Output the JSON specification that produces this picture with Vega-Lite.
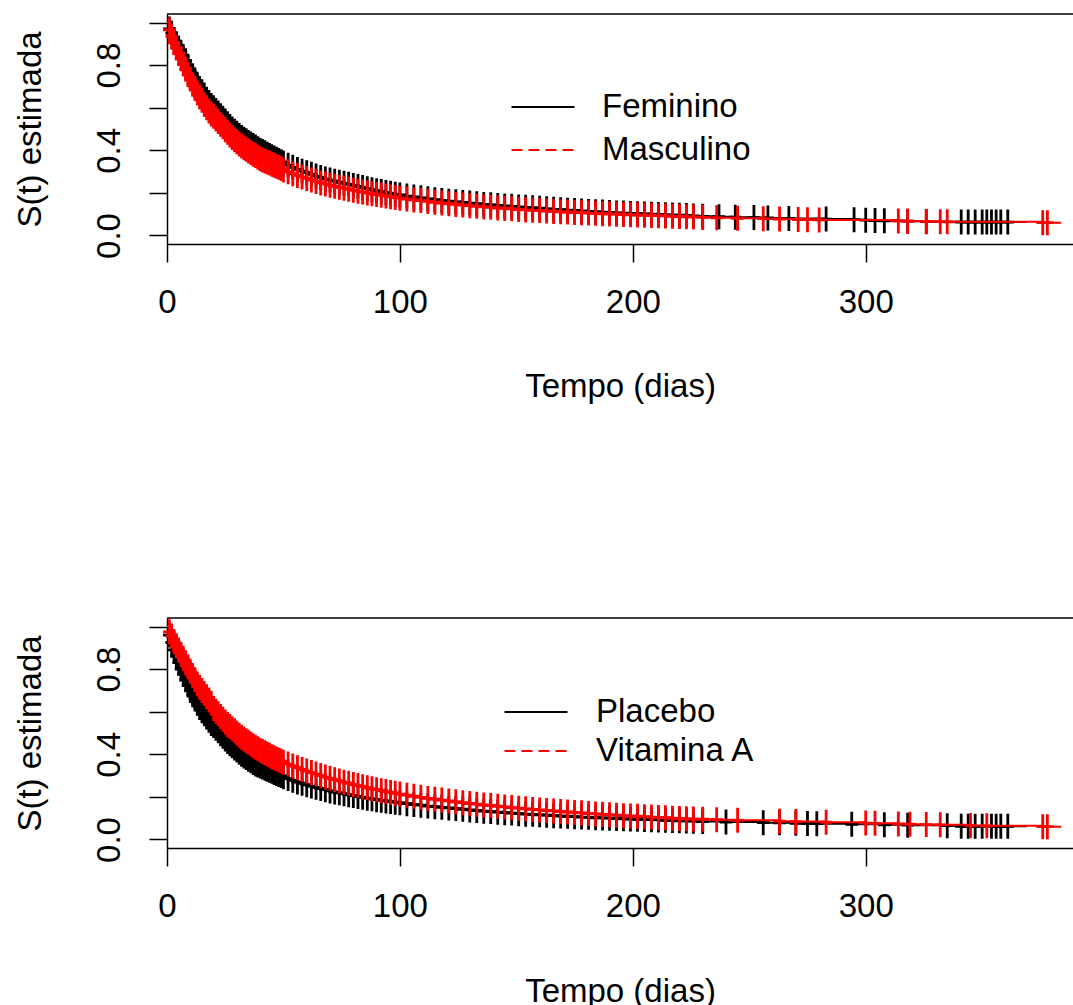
{
"$schema": "https://vega.github.io/schema/vega-lite/v6.json",
"background": "white",
"padding": {"left": 13, "top": 10, "right": 0, "bottom": 0},
"config": {"font": "Liberation Sans", "view": {"stroke": null}},
"data": {"values": [
{"p":1,"g":"Feminino","t":0,"s":1,"m":0},{"p":1,"g":"Feminino","t":1,"s":0.97},{"p":1,"g":"Feminino","t":2,"s":0.95},{"p":1,"g":"Feminino","t":3,"s":0.92},{"p":1,"g":"Feminino","t":4,"s":0.9},{"p":1,"g":"Feminino","t":5,"s":0.88},{"p":1,"g":"Feminino","t":6,"s":0.86},{"p":1,"g":"Feminino","t":7,"s":0.84},{"p":1,"g":"Feminino","t":8,"s":0.82},{"p":1,"g":"Feminino","t":9,"s":0.795},{"p":1,"g":"Feminino","t":10,"s":0.77},{"p":1,"g":"Feminino","t":11,"s":0.75},{"p":1,"g":"Feminino","t":12,"s":0.73},{"p":1,"g":"Feminino","t":13,"s":0.71},{"p":1,"g":"Feminino","t":14,"s":0.69},{"p":1,"g":"Feminino","t":15,"s":0.675},{"p":1,"g":"Feminino","t":16,"s":0.66},{"p":1,"g":"Feminino","t":17,"s":0.64},{"p":1,"g":"Feminino","t":18,"s":0.625},{"p":1,"g":"Feminino","t":19,"s":0.61},
{"p":1,"g":"Feminino","t":20,"s":0.6},{"p":1,"g":"Feminino","t":21,"s":0.587},{"p":1,"g":"Feminino","t":22,"s":0.575},{"p":1,"g":"Feminino","t":23,"s":0.562},{"p":1,"g":"Feminino","t":24,"s":0.55},{"p":1,"g":"Feminino","t":25,"s":0.537},{"p":1,"g":"Feminino","t":26,"s":0.525},{"p":1,"g":"Feminino","t":27,"s":0.512},{"p":1,"g":"Feminino","t":28,"s":0.5},{"p":1,"g":"Feminino","t":29,"s":0.49},{"p":1,"g":"Feminino","t":30,"s":0.48},{"p":1,"g":"Feminino","t":31,"s":0.47},{"p":1,"g":"Feminino","t":32,"s":0.46},{"p":1,"g":"Feminino","t":33,"s":0.452},{"p":1,"g":"Feminino","t":34,"s":0.445},{"p":1,"g":"Feminino","t":35,"s":0.437},{"p":1,"g":"Feminino","t":36,"s":0.43},{"p":1,"g":"Feminino","t":37,"s":0.422},{"p":1,"g":"Feminino","t":38,"s":0.415},{"p":1,"g":"Feminino","t":39,"s":0.407},{"p":1,"g":"Feminino","t":40,"s":0.4},{"p":1,"g":"Feminino","t":41,"s":0.394},{"p":1,"g":"Feminino","t":42,"s":0.388},{"p":1,"g":"Feminino","t":43,"s":0.382},{"p":1,"g":"Feminino","t":44,"s":0.376},{"p":1,"g":"Feminino","t":45,"s":0.37},{"p":1,"g":"Feminino","t":46,"s":0.364},{"p":1,"g":"Feminino","t":47,"s":0.358},{"p":1,"g":"Feminino","t":48,"s":0.352},{"p":1,"g":"Feminino","t":49,"s":0.346},{"p":1,"g":"Feminino","t":50,"s":0.34},{"p":1,"g":"Feminino","t":52,"s":0.33},{"p":1,"g":"Feminino","t":54,"s":0.32},{"p":1,"g":"Feminino","t":56,"s":0.31},{"p":1,"g":"Feminino","t":58,"s":0.302},{"p":1,"g":"Feminino","t":60,"s":0.295},{"p":1,"g":"Feminino","t":62,"s":0.287},{"p":1,"g":"Feminino","t":64,"s":0.279},{"p":1,"g":"Feminino","t":66,"s":0.272},{"p":1,"g":"Feminino","t":68,"s":0.265},{"p":1,"g":"Feminino","t":70,"s":0.26},{"p":1,"g":"Feminino","t":72,"s":0.255},{"p":1,"g":"Feminino","t":74,"s":0.25},{"p":1,"g":"Feminino","t":76,"s":0.245},{"p":1,"g":"Feminino","t":78,"s":0.24},{"p":1,"g":"Feminino","t":80,"s":0.235},{"p":1,"g":"Feminino","t":82,"s":0.23},{"p":1,"g":"Feminino","t":84,"s":0.225},{"p":1,"g":"Feminino","t":86,"s":0.22},{"p":1,"g":"Feminino","t":88,"s":0.215},{"p":1,"g":"Feminino","t":90,"s":0.21},{"p":1,"g":"Feminino","t":92,"s":0.206},{"p":1,"g":"Feminino","t":94,"s":0.202},{"p":1,"g":"Feminino","t":96,"s":0.198},{"p":1,"g":"Feminino","t":98,"s":0.194},{"p":1,"g":"Feminino","t":100,"s":0.19},{"p":1,"g":"Feminino","t":103,"s":0.185},{"p":1,"g":"Feminino","t":106,"s":0.181},{"p":1,"g":"Feminino","t":109,"s":0.177},{"p":1,"g":"Feminino","t":112,"s":0.172},{"p":1,"g":"Feminino","t":115,"s":0.168},{"p":1,"g":"Feminino","t":118,"s":0.164},{"p":1,"g":"Feminino","t":121,"s":0.161},{"p":1,"g":"Feminino","t":124,"s":0.158},{"p":1,"g":"Feminino","t":127,"s":0.155},{"p":1,"g":"Feminino","t":130,"s":0.152},{"p":1,"g":"Feminino","t":133,"s":0.149},{"p":1,"g":"Feminino","t":136,"s":0.146},{"p":1,"g":"Feminino","t":139,"s":0.144},{"p":1,"g":"Feminino","t":142,"s":0.141},{"p":1,"g":"Feminino","t":145,"s":0.139},{"p":1,"g":"Feminino","t":148,"s":0.137},{"p":1,"g":"Feminino","t":151,"s":0.134},{"p":1,"g":"Feminino","t":154,"s":0.132},{"p":1,"g":"Feminino","t":157,"s":0.13},{"p":1,"g":"Feminino","t":160,"s":0.128},{"p":1,"g":"Feminino","t":163,"s":0.125},{"p":1,"g":"Feminino","t":166,"s":0.123},{"p":1,"g":"Feminino","t":169,"s":0.121},{"p":1,"g":"Feminino","t":172,"s":0.119},{"p":1,"g":"Feminino","t":175,"s":0.117},{"p":1,"g":"Feminino","t":178,"s":0.115},{"p":1,"g":"Feminino","t":181,"s":0.113},{"p":1,"g":"Feminino","t":184,"s":0.111},{"p":1,"g":"Feminino","t":187,"s":0.11},{"p":1,"g":"Feminino","t":190,"s":0.108},{"p":1,"g":"Feminino","t":193,"s":0.106},{"p":1,"g":"Feminino","t":196,"s":0.105},{"p":1,"g":"Feminino","t":199,"s":0.103},{"p":1,"g":"Feminino","t":202,"s":0.102},{"p":1,"g":"Feminino","t":205,"s":0.101},{"p":1,"g":"Feminino","t":208,"s":0.1},{"p":1,"g":"Feminino","t":211,"s":0.099},{"p":1,"g":"Feminino","t":214,"s":0.097},{"p":1,"g":"Feminino","t":217,"s":0.096},{"p":1,"g":"Feminino","t":220,"s":0.095},{"p":1,"g":"Feminino","t":223,"s":0.094},{"p":1,"g":"Feminino","t":226,"s":0.092},{"p":1,"g":"Feminino","t":230,"s":0.09},
{"p":1,"g":"Feminino","t":237,"s":0.088},{"p":1,"g":"Feminino","t":244,"s":0.086},{"p":1,"g":"Feminino","t":252,"s":0.084},{"p":1,"g":"Feminino","t":258,"s":0.082},{"p":1,"g":"Feminino","t":267,"s":0.08},{"p":1,"g":"Feminino","t":283,"s":0.077},{"p":1,"g":"Feminino","t":295,"s":0.074},{"p":1,"g":"Feminino","t":300,"s":0.072},{"p":1,"g":"Feminino","t":304,"s":0.07},{"p":1,"g":"Feminino","t":308,"s":0.069},{"p":1,"g":"Feminino","t":318,"s":0.067},{"p":1,"g":"Feminino","t":326,"s":0.065},{"p":1,"g":"Feminino","t":341,"s":0.063},{"p":1,"g":"Feminino","t":344,"s":0.063},{"p":1,"g":"Feminino","t":347,"s":0.063},{"p":1,"g":"Feminino","t":350,"s":0.063},{"p":1,"g":"Feminino","t":352,"s":0.063},{"p":1,"g":"Feminino","t":354,"s":0.063},{"p":1,"g":"Feminino","t":356,"s":0.063},{"p":1,"g":"Feminino","t":358,"s":0.063},{"p":1,"g":"Feminino","t":361,"s":0.063},{"p":1,"g":"Feminino","t":369,"s":0.063,"m":0},
{"p":1,"g":"Masculino","t":0,"s":1,"m":0},{"p":1,"g":"Masculino","t":1,"s":0.965},{"p":1,"g":"Masculino","t":2,"s":0.935},{"p":1,"g":"Masculino","t":3,"s":0.905},{"p":1,"g":"Masculino","t":4,"s":0.88},{"p":1,"g":"Masculino","t":5,"s":0.855},{"p":1,"g":"Masculino","t":6,"s":0.83},{"p":1,"g":"Masculino","t":7,"s":0.805},{"p":1,"g":"Masculino","t":8,"s":0.78},{"p":1,"g":"Masculino","t":9,"s":0.755},{"p":1,"g":"Masculino","t":10,"s":0.735},{"p":1,"g":"Masculino","t":11,"s":0.71},{"p":1,"g":"Masculino","t":12,"s":0.69},{"p":1,"g":"Masculino","t":13,"s":0.67},{"p":1,"g":"Masculino","t":14,"s":0.65},{"p":1,"g":"Masculino","t":15,"s":0.635},{"p":1,"g":"Masculino","t":16,"s":0.615},{"p":1,"g":"Masculino","t":17,"s":0.6},{"p":1,"g":"Masculino","t":18,"s":0.585},{"p":1,"g":"Masculino","t":19,"s":0.57},
{"p":1,"g":"Masculino","t":20,"s":0.56},{"p":1,"g":"Masculino","t":21,"s":0.547},{"p":1,"g":"Masculino","t":22,"s":0.535},{"p":1,"g":"Masculino","t":23,"s":0.522},{"p":1,"g":"Masculino","t":24,"s":0.51},{"p":1,"g":"Masculino","t":25,"s":0.497},{"p":1,"g":"Masculino","t":26,"s":0.485},{"p":1,"g":"Masculino","t":27,"s":0.472},{"p":1,"g":"Masculino","t":28,"s":0.46},{"p":1,"g":"Masculino","t":29,"s":0.45},{"p":1,"g":"Masculino","t":30,"s":0.44},{"p":1,"g":"Masculino","t":31,"s":0.43},{"p":1,"g":"Masculino","t":32,"s":0.42},{"p":1,"g":"Masculino","t":33,"s":0.412},{"p":1,"g":"Masculino","t":34,"s":0.405},{"p":1,"g":"Masculino","t":35,"s":0.397},{"p":1,"g":"Masculino","t":36,"s":0.39},{"p":1,"g":"Masculino","t":37,"s":0.382},{"p":1,"g":"Masculino","t":38,"s":0.375},{"p":1,"g":"Masculino","t":39,"s":0.367},{"p":1,"g":"Masculino","t":40,"s":0.36},{"p":1,"g":"Masculino","t":41,"s":0.355},{"p":1,"g":"Masculino","t":42,"s":0.35},{"p":1,"g":"Masculino","t":43,"s":0.345},{"p":1,"g":"Masculino","t":44,"s":0.34},{"p":1,"g":"Masculino","t":45,"s":0.335},{"p":1,"g":"Masculino","t":46,"s":0.33},{"p":1,"g":"Masculino","t":47,"s":0.325},{"p":1,"g":"Masculino","t":48,"s":0.32},{"p":1,"g":"Masculino","t":49,"s":0.314},{"p":1,"g":"Masculino","t":50,"s":0.308},{"p":1,"g":"Masculino","t":52,"s":0.299},{"p":1,"g":"Masculino","t":54,"s":0.29},{"p":1,"g":"Masculino","t":56,"s":0.282},{"p":1,"g":"Masculino","t":58,"s":0.275},{"p":1,"g":"Masculino","t":60,"s":0.268},{"p":1,"g":"Masculino","t":62,"s":0.261},{"p":1,"g":"Masculino","t":64,"s":0.254},{"p":1,"g":"Masculino","t":66,"s":0.247},{"p":1,"g":"Masculino","t":68,"s":0.242},{"p":1,"g":"Masculino","t":70,"s":0.236},{"p":1,"g":"Masculino","t":72,"s":0.231},{"p":1,"g":"Masculino","t":74,"s":0.226},{"p":1,"g":"Masculino","t":76,"s":0.222},{"p":1,"g":"Masculino","t":78,"s":0.217},{"p":1,"g":"Masculino","t":80,"s":0.212},{"p":1,"g":"Masculino","t":82,"s":0.208},{"p":1,"g":"Masculino","t":84,"s":0.204},{"p":1,"g":"Masculino","t":86,"s":0.2},{"p":1,"g":"Masculino","t":88,"s":0.196},{"p":1,"g":"Masculino","t":90,"s":0.192},{"p":1,"g":"Masculino","t":92,"s":0.189},{"p":1,"g":"Masculino","t":94,"s":0.185},{"p":1,"g":"Masculino","t":96,"s":0.182},{"p":1,"g":"Masculino","t":98,"s":0.178},{"p":1,"g":"Masculino","t":100,"s":0.175},{"p":1,"g":"Masculino","t":103,"s":0.171},{"p":1,"g":"Masculino","t":106,"s":0.167},{"p":1,"g":"Masculino","t":109,"s":0.164},{"p":1,"g":"Masculino","t":112,"s":0.16},{"p":1,"g":"Masculino","t":115,"s":0.156},{"p":1,"g":"Masculino","t":118,"s":0.152},{"p":1,"g":"Masculino","t":121,"s":0.149},{"p":1,"g":"Masculino","t":124,"s":0.146},{"p":1,"g":"Masculino","t":127,"s":0.143},{"p":1,"g":"Masculino","t":130,"s":0.14},{"p":1,"g":"Masculino","t":133,"s":0.137},{"p":1,"g":"Masculino","t":136,"s":0.134},{"p":1,"g":"Masculino","t":139,"s":0.132},{"p":1,"g":"Masculino","t":142,"s":0.129},{"p":1,"g":"Masculino","t":145,"s":0.127},{"p":1,"g":"Masculino","t":148,"s":0.125},{"p":1,"g":"Masculino","t":151,"s":0.122},{"p":1,"g":"Masculino","t":154,"s":0.12},{"p":1,"g":"Masculino","t":157,"s":0.118},{"p":1,"g":"Masculino","t":160,"s":0.117},{"p":1,"g":"Masculino","t":163,"s":0.115},{"p":1,"g":"Masculino","t":166,"s":0.113},{"p":1,"g":"Masculino","t":169,"s":0.111},{"p":1,"g":"Masculino","t":172,"s":0.11},{"p":1,"g":"Masculino","t":175,"s":0.108},{"p":1,"g":"Masculino","t":178,"s":0.107},{"p":1,"g":"Masculino","t":181,"s":0.105},{"p":1,"g":"Masculino","t":184,"s":0.104},{"p":1,"g":"Masculino","t":187,"s":0.102},{"p":1,"g":"Masculino","t":190,"s":0.101},{"p":1,"g":"Masculino","t":193,"s":0.1},{"p":1,"g":"Masculino","t":196,"s":0.098},{"p":1,"g":"Masculino","t":199,"s":0.097},{"p":1,"g":"Masculino","t":202,"s":0.096},{"p":1,"g":"Masculino","t":205,"s":0.095},{"p":1,"g":"Masculino","t":208,"s":0.094},{"p":1,"g":"Masculino","t":211,"s":0.093},{"p":1,"g":"Masculino","t":214,"s":0.092},{"p":1,"g":"Masculino","t":217,"s":0.09},{"p":1,"g":"Masculino","t":220,"s":0.089},{"p":1,"g":"Masculino","t":223,"s":0.088},{"p":1,"g":"Masculino","t":226,"s":0.087},{"p":1,"g":"Masculino","t":230,"s":0.085},
{"p":1,"g":"Masculino","t":236,"s":0.083},{"p":1,"g":"Masculino","t":245,"s":0.081},{"p":1,"g":"Masculino","t":256,"s":0.079},{"p":1,"g":"Masculino","t":263,"s":0.077},{"p":1,"g":"Masculino","t":271,"s":0.075},{"p":1,"g":"Masculino","t":275,"s":0.074},{"p":1,"g":"Masculino","t":280,"s":0.073},{"p":1,"g":"Masculino","t":314,"s":0.068},{"p":1,"g":"Masculino","t":318,"s":0.067},{"p":1,"g":"Masculino","t":326,"s":0.066},{"p":1,"g":"Masculino","t":332,"s":0.065},{"p":1,"g":"Masculino","t":335,"s":0.064},{"p":1,"g":"Masculino","t":376,"s":0.06},{"p":1,"g":"Masculino","t":378,"s":0.06},{"p":1,"g":"Masculino","t":384,"s":0.06,"m":0},
{"p":2,"g":"Placebo","t":0,"s":1,"m":0},{"p":2,"g":"Placebo","t":1,"s":0.96},{"p":2,"g":"Placebo","t":2,"s":0.925},{"p":2,"g":"Placebo","t":3,"s":0.89},{"p":2,"g":"Placebo","t":4,"s":0.86},{"p":2,"g":"Placebo","t":5,"s":0.83},{"p":2,"g":"Placebo","t":6,"s":0.8},{"p":2,"g":"Placebo","t":7,"s":0.775},{"p":2,"g":"Placebo","t":8,"s":0.75},{"p":2,"g":"Placebo","t":9,"s":0.725},{"p":2,"g":"Placebo","t":10,"s":0.7},{"p":2,"g":"Placebo","t":11,"s":0.68},{"p":2,"g":"Placebo","t":12,"s":0.66},{"p":2,"g":"Placebo","t":13,"s":0.64},{"p":2,"g":"Placebo","t":14,"s":0.62},{"p":2,"g":"Placebo","t":15,"s":0.605},{"p":2,"g":"Placebo","t":16,"s":0.59},{"p":2,"g":"Placebo","t":17,"s":0.575},{"p":2,"g":"Placebo","t":18,"s":0.56},{"p":2,"g":"Placebo","t":19,"s":0.545},
{"p":2,"g":"Placebo","t":20,"s":0.535},{"p":2,"g":"Placebo","t":21,"s":0.522},{"p":2,"g":"Placebo","t":22,"s":0.51},{"p":2,"g":"Placebo","t":23,"s":0.497},{"p":2,"g":"Placebo","t":24,"s":0.485},{"p":2,"g":"Placebo","t":25,"s":0.472},{"p":2,"g":"Placebo","t":26,"s":0.46},{"p":2,"g":"Placebo","t":27,"s":0.45},{"p":2,"g":"Placebo","t":28,"s":0.44},{"p":2,"g":"Placebo","t":29,"s":0.43},{"p":2,"g":"Placebo","t":30,"s":0.42},{"p":2,"g":"Placebo","t":31,"s":0.41},{"p":2,"g":"Placebo","t":32,"s":0.4},{"p":2,"g":"Placebo","t":33,"s":0.392},{"p":2,"g":"Placebo","t":34,"s":0.385},{"p":2,"g":"Placebo","t":35,"s":0.377},{"p":2,"g":"Placebo","t":36,"s":0.37},{"p":2,"g":"Placebo","t":37,"s":0.362},{"p":2,"g":"Placebo","t":38,"s":0.355},{"p":2,"g":"Placebo","t":39,"s":0.35},{"p":2,"g":"Placebo","t":40,"s":0.345},{"p":2,"g":"Placebo","t":41,"s":0.34},{"p":2,"g":"Placebo","t":42,"s":0.335},{"p":2,"g":"Placebo","t":43,"s":0.33},{"p":2,"g":"Placebo","t":44,"s":0.325},{"p":2,"g":"Placebo","t":45,"s":0.32},{"p":2,"g":"Placebo","t":46,"s":0.315},{"p":2,"g":"Placebo","t":47,"s":0.31},{"p":2,"g":"Placebo","t":48,"s":0.305},{"p":2,"g":"Placebo","t":49,"s":0.3},{"p":2,"g":"Placebo","t":50,"s":0.295},{"p":2,"g":"Placebo","t":52,"s":0.286},{"p":2,"g":"Placebo","t":54,"s":0.278},{"p":2,"g":"Placebo","t":56,"s":0.27},{"p":2,"g":"Placebo","t":58,"s":0.264},{"p":2,"g":"Placebo","t":60,"s":0.257},{"p":2,"g":"Placebo","t":62,"s":0.251},{"p":2,"g":"Placebo","t":64,"s":0.245},{"p":2,"g":"Placebo","t":66,"s":0.239},{"p":2,"g":"Placebo","t":68,"s":0.234},{"p":2,"g":"Placebo","t":70,"s":0.228},{"p":2,"g":"Placebo","t":72,"s":0.223},{"p":2,"g":"Placebo","t":74,"s":0.219},{"p":2,"g":"Placebo","t":76,"s":0.215},{"p":2,"g":"Placebo","t":78,"s":0.21},{"p":2,"g":"Placebo","t":80,"s":0.206},{"p":2,"g":"Placebo","t":82,"s":0.202},{"p":2,"g":"Placebo","t":84,"s":0.198},{"p":2,"g":"Placebo","t":86,"s":0.194},{"p":2,"g":"Placebo","t":88,"s":0.191},{"p":2,"g":"Placebo","t":90,"s":0.187},{"p":2,"g":"Placebo","t":92,"s":0.184},{"p":2,"g":"Placebo","t":94,"s":0.181},{"p":2,"g":"Placebo","t":96,"s":0.178},{"p":2,"g":"Placebo","t":98,"s":0.175},{"p":2,"g":"Placebo","t":100,"s":0.172},{"p":2,"g":"Placebo","t":103,"s":0.168},{"p":2,"g":"Placebo","t":106,"s":0.164},{"p":2,"g":"Placebo","t":109,"s":0.161},{"p":2,"g":"Placebo","t":112,"s":0.157},{"p":2,"g":"Placebo","t":115,"s":0.154},{"p":2,"g":"Placebo","t":118,"s":0.151},{"p":2,"g":"Placebo","t":121,"s":0.148},{"p":2,"g":"Placebo","t":124,"s":0.145},{"p":2,"g":"Placebo","t":127,"s":0.142},{"p":2,"g":"Placebo","t":130,"s":0.139},{"p":2,"g":"Placebo","t":133,"s":0.136},{"p":2,"g":"Placebo","t":136,"s":0.133},{"p":2,"g":"Placebo","t":139,"s":0.131},{"p":2,"g":"Placebo","t":142,"s":0.128},{"p":2,"g":"Placebo","t":145,"s":0.126},{"p":2,"g":"Placebo","t":148,"s":0.124},{"p":2,"g":"Placebo","t":151,"s":0.121},{"p":2,"g":"Placebo","t":154,"s":0.119},{"p":2,"g":"Placebo","t":157,"s":0.118},{"p":2,"g":"Placebo","t":160,"s":0.116},{"p":2,"g":"Placebo","t":163,"s":0.114},{"p":2,"g":"Placebo","t":166,"s":0.112},{"p":2,"g":"Placebo","t":169,"s":0.11},{"p":2,"g":"Placebo","t":172,"s":0.109},{"p":2,"g":"Placebo","t":175,"s":0.107},{"p":2,"g":"Placebo","t":178,"s":0.105},{"p":2,"g":"Placebo","t":181,"s":0.104},{"p":2,"g":"Placebo","t":184,"s":0.102},{"p":2,"g":"Placebo","t":187,"s":0.101},{"p":2,"g":"Placebo","t":190,"s":0.1},{"p":2,"g":"Placebo","t":193,"s":0.099},{"p":2,"g":"Placebo","t":196,"s":0.097},{"p":2,"g":"Placebo","t":199,"s":0.096},{"p":2,"g":"Placebo","t":202,"s":0.095},{"p":2,"g":"Placebo","t":205,"s":0.094},{"p":2,"g":"Placebo","t":208,"s":0.093},{"p":2,"g":"Placebo","t":211,"s":0.092},{"p":2,"g":"Placebo","t":214,"s":0.09},{"p":2,"g":"Placebo","t":217,"s":0.089},{"p":2,"g":"Placebo","t":220,"s":0.088},{"p":2,"g":"Placebo","t":223,"s":0.087},{"p":2,"g":"Placebo","t":226,"s":0.086},{"p":2,"g":"Placebo","t":230,"s":0.084},
{"p":2,"g":"Placebo","t":240,"s":0.082},{"p":2,"g":"Placebo","t":256,"s":0.079},{"p":2,"g":"Placebo","t":263,"s":0.078},{"p":2,"g":"Placebo","t":270,"s":0.076},{"p":2,"g":"Placebo","t":275,"s":0.075},{"p":2,"g":"Placebo","t":279,"s":0.074},{"p":2,"g":"Placebo","t":294,"s":0.071},{"p":2,"g":"Placebo","t":308,"s":0.069},{"p":2,"g":"Placebo","t":318,"s":0.067},{"p":2,"g":"Placebo","t":335,"s":0.065},{"p":2,"g":"Placebo","t":341,"s":0.062},{"p":2,"g":"Placebo","t":344,"s":0.062},{"p":2,"g":"Placebo","t":347,"s":0.062},{"p":2,"g":"Placebo","t":350,"s":0.062},{"p":2,"g":"Placebo","t":354,"s":0.062},{"p":2,"g":"Placebo","t":356,"s":0.062},{"p":2,"g":"Placebo","t":358,"s":0.062},{"p":2,"g":"Placebo","t":361,"s":0.062},{"p":2,"g":"Placebo","t":369,"s":0.062,"m":0},
{"p":2,"g":"Vitamina A","t":0,"s":1,"m":0},{"p":2,"g":"Vitamina A","t":1,"s":0.975},{"p":2,"g":"Vitamina A","t":2,"s":0.955},{"p":2,"g":"Vitamina A","t":3,"s":0.93},{"p":2,"g":"Vitamina A","t":4,"s":0.91},{"p":2,"g":"Vitamina A","t":5,"s":0.89},{"p":2,"g":"Vitamina A","t":6,"s":0.87},{"p":2,"g":"Vitamina A","t":7,"s":0.85},{"p":2,"g":"Vitamina A","t":8,"s":0.83},{"p":2,"g":"Vitamina A","t":9,"s":0.81},{"p":2,"g":"Vitamina A","t":10,"s":0.79},{"p":2,"g":"Vitamina A","t":11,"s":0.77},{"p":2,"g":"Vitamina A","t":12,"s":0.75},{"p":2,"g":"Vitamina A","t":13,"s":0.73},{"p":2,"g":"Vitamina A","t":14,"s":0.715},{"p":2,"g":"Vitamina A","t":15,"s":0.7},{"p":2,"g":"Vitamina A","t":16,"s":0.685},{"p":2,"g":"Vitamina A","t":17,"s":0.67},{"p":2,"g":"Vitamina A","t":18,"s":0.655},{"p":2,"g":"Vitamina A","t":19,"s":0.64},
{"p":2,"g":"Vitamina A","t":20,"s":0.615},{"p":2,"g":"Vitamina A","t":21,"s":0.602},{"p":2,"g":"Vitamina A","t":22,"s":0.59},{"p":2,"g":"Vitamina A","t":23,"s":0.577},{"p":2,"g":"Vitamina A","t":24,"s":0.565},{"p":2,"g":"Vitamina A","t":25,"s":0.552},{"p":2,"g":"Vitamina A","t":26,"s":0.54},{"p":2,"g":"Vitamina A","t":27,"s":0.53},{"p":2,"g":"Vitamina A","t":28,"s":0.52},{"p":2,"g":"Vitamina A","t":29,"s":0.51},{"p":2,"g":"Vitamina A","t":30,"s":0.5},{"p":2,"g":"Vitamina A","t":31,"s":0.49},{"p":2,"g":"Vitamina A","t":32,"s":0.48},{"p":2,"g":"Vitamina A","t":33,"s":0.472},{"p":2,"g":"Vitamina A","t":34,"s":0.464},{"p":2,"g":"Vitamina A","t":35,"s":0.456},{"p":2,"g":"Vitamina A","t":36,"s":0.448},{"p":2,"g":"Vitamina A","t":37,"s":0.44},{"p":2,"g":"Vitamina A","t":38,"s":0.433},{"p":2,"g":"Vitamina A","t":39,"s":0.426},{"p":2,"g":"Vitamina A","t":40,"s":0.419},{"p":2,"g":"Vitamina A","t":41,"s":0.413},{"p":2,"g":"Vitamina A","t":42,"s":0.407},{"p":2,"g":"Vitamina A","t":43,"s":0.401},{"p":2,"g":"Vitamina A","t":44,"s":0.395},{"p":2,"g":"Vitamina A","t":45,"s":0.389},{"p":2,"g":"Vitamina A","t":46,"s":0.384},{"p":2,"g":"Vitamina A","t":47,"s":0.378},{"p":2,"g":"Vitamina A","t":48,"s":0.373},{"p":2,"g":"Vitamina A","t":49,"s":0.368},{"p":2,"g":"Vitamina A","t":50,"s":0.363},{"p":2,"g":"Vitamina A","t":52,"s":0.354},{"p":2,"g":"Vitamina A","t":54,"s":0.345},{"p":2,"g":"Vitamina A","t":56,"s":0.337},{"p":2,"g":"Vitamina A","t":58,"s":0.329},{"p":2,"g":"Vitamina A","t":60,"s":0.321},{"p":2,"g":"Vitamina A","t":62,"s":0.314},{"p":2,"g":"Vitamina A","t":64,"s":0.307},{"p":2,"g":"Vitamina A","t":66,"s":0.3},{"p":2,"g":"Vitamina A","t":68,"s":0.293},{"p":2,"g":"Vitamina A","t":70,"s":0.287},{"p":2,"g":"Vitamina A","t":72,"s":0.281},{"p":2,"g":"Vitamina A","t":74,"s":0.275},{"p":2,"g":"Vitamina A","t":76,"s":0.269},{"p":2,"g":"Vitamina A","t":78,"s":0.264},{"p":2,"g":"Vitamina A","t":80,"s":0.258},{"p":2,"g":"Vitamina A","t":82,"s":0.253},{"p":2,"g":"Vitamina A","t":84,"s":0.248},{"p":2,"g":"Vitamina A","t":86,"s":0.243},{"p":2,"g":"Vitamina A","t":88,"s":0.238},{"p":2,"g":"Vitamina A","t":90,"s":0.234},{"p":2,"g":"Vitamina A","t":92,"s":0.229},{"p":2,"g":"Vitamina A","t":94,"s":0.225},{"p":2,"g":"Vitamina A","t":96,"s":0.221},{"p":2,"g":"Vitamina A","t":98,"s":0.217},{"p":2,"g":"Vitamina A","t":100,"s":0.213},{"p":2,"g":"Vitamina A","t":103,"s":0.208},{"p":2,"g":"Vitamina A","t":106,"s":0.203},{"p":2,"g":"Vitamina A","t":109,"s":0.198},{"p":2,"g":"Vitamina A","t":112,"s":0.193},{"p":2,"g":"Vitamina A","t":115,"s":0.189},{"p":2,"g":"Vitamina A","t":118,"s":0.185},{"p":2,"g":"Vitamina A","t":121,"s":0.181},{"p":2,"g":"Vitamina A","t":124,"s":0.177},{"p":2,"g":"Vitamina A","t":127,"s":0.173},{"p":2,"g":"Vitamina A","t":130,"s":0.169},{"p":2,"g":"Vitamina A","t":133,"s":0.166},{"p":2,"g":"Vitamina A","t":136,"s":0.162},{"p":2,"g":"Vitamina A","t":139,"s":0.159},{"p":2,"g":"Vitamina A","t":142,"s":0.156},{"p":2,"g":"Vitamina A","t":145,"s":0.153},{"p":2,"g":"Vitamina A","t":148,"s":0.15},{"p":2,"g":"Vitamina A","t":151,"s":0.147},{"p":2,"g":"Vitamina A","t":154,"s":0.144},{"p":2,"g":"Vitamina A","t":157,"s":0.141},{"p":2,"g":"Vitamina A","t":160,"s":0.139},{"p":2,"g":"Vitamina A","t":163,"s":0.136},{"p":2,"g":"Vitamina A","t":166,"s":0.134},{"p":2,"g":"Vitamina A","t":169,"s":0.131},{"p":2,"g":"Vitamina A","t":172,"s":0.129},{"p":2,"g":"Vitamina A","t":175,"s":0.127},{"p":2,"g":"Vitamina A","t":178,"s":0.125},{"p":2,"g":"Vitamina A","t":181,"s":0.122},{"p":2,"g":"Vitamina A","t":184,"s":0.12},{"p":2,"g":"Vitamina A","t":187,"s":0.118},{"p":2,"g":"Vitamina A","t":190,"s":0.116},{"p":2,"g":"Vitamina A","t":193,"s":0.114},{"p":2,"g":"Vitamina A","t":196,"s":0.112},{"p":2,"g":"Vitamina A","t":199,"s":0.11},{"p":2,"g":"Vitamina A","t":202,"s":0.109},{"p":2,"g":"Vitamina A","t":205,"s":0.107},{"p":2,"g":"Vitamina A","t":208,"s":0.105},{"p":2,"g":"Vitamina A","t":211,"s":0.103},{"p":2,"g":"Vitamina A","t":214,"s":0.102},{"p":2,"g":"Vitamina A","t":217,"s":0.1},{"p":2,"g":"Vitamina A","t":220,"s":0.099},{"p":2,"g":"Vitamina A","t":223,"s":0.097},{"p":2,"g":"Vitamina A","t":226,"s":0.096},{"p":2,"g":"Vitamina A","t":230,"s":0.095},
{"p":2,"g":"Vitamina A","t":236,"s":0.093},{"p":2,"g":"Vitamina A","t":245,"s":0.09},{"p":2,"g":"Vitamina A","t":263,"s":0.086},{"p":2,"g":"Vitamina A","t":270,"s":0.084},{"p":2,"g":"Vitamina A","t":283,"s":0.081},{"p":2,"g":"Vitamina A","t":300,"s":0.077},{"p":2,"g":"Vitamina A","t":304,"s":0.076},{"p":2,"g":"Vitamina A","t":314,"s":0.073},{"p":2,"g":"Vitamina A","t":319,"s":0.072},{"p":2,"g":"Vitamina A","t":326,"s":0.07},{"p":2,"g":"Vitamina A","t":332,"s":0.069},{"p":2,"g":"Vitamina A","t":345,"s":0.066},{"p":2,"g":"Vitamina A","t":352,"s":0.064},{"p":2,"g":"Vitamina A","t":376,"s":0.06},{"p":2,"g":"Vitamina A","t":378,"s":0.06},{"p":2,"g":"Vitamina A","t":384,"s":0.06,"m":0}
]},
"spacing": 374,
"bounds": "flush",
"resolve": {"scale": {"color": "independent"}, "legend": {"color": "independent"}},
"vconcat": [
{
 "width": 906, "height": 230,
 "layer": [
  {"data": {"values": [{}]}, "mark": {"type": "rule", "color": "black", "strokeWidth": 1.5}, "encoding": {"y": {"datum": 1.04, "type": "quantitative", "scale": {"domain": [-0.04, 1.04], "nice": false, "zero": false}}}},
  {
   "transform": [{"filter": "datum.p === 1"}],
   "encoding": {
    "x": {"field": "t", "type": "quantitative", "scale": {"domain": [0, 389], "nice": false, "zero": false},
      "axis": {"values": [0, 100, 200, 300], "title": "Tempo (dias)", "grid": false, "domainColor": "black", "domainWidth": 1.5, "tickColor": "black", "tickWidth": 1.5, "tickSize": 18, "labelFontSize": 33, "labelColor": "black", "labelPadding": 24, "labelFlush": false, "labelOverlap": false, "titleFontSize": 33, "titleFontWeight": "normal", "titleColor": "black", "titlePadding": 51}},
    "y": {"field": "s", "type": "quantitative", "scale": {"domain": [-0.04, 1.04], "nice": false, "zero": false},
      "axis": {"values": [0, 0.2, 0.4, 0.6, 0.8, 1], "labelExpr": "(datum.value === 0 || datum.value === 0.4 || datum.value === 0.8) ? format(datum.value, '.1f') : ''", "title": "S(t) estimada", "grid": false, "domainColor": "black", "domainWidth": 1.5, "tickColor": "black", "tickWidth": 1.5, "tickSize": 18, "labelFontSize": 33, "labelColor": "black", "labelAngle": 270, "labelAlign": "center", "labelBaseline": "middle", "labelPadding": 40, "labelOverlap": false, "titleFontSize": 33, "titleFontWeight": "normal", "titleColor": "black", "titlePadding": 46}},
    "color": {"field": "g", "type": "nominal", "scale": {"domain": ["Feminino", "Masculino"], "range": ["#000000", "#ff0000"]},
      "legend": {"title": null, "orient": "none", "legendX": 359, "legendY": 76, "symbolType": "M-2,0H2", "symbolSize": 992, "symbolStrokeWidth": 2, "labelFontSize": 33, "labelColor": "black", "labelOffset": 42, "rowPadding": 9, "labelLimit": 500,
        "encode": {"symbols": {"update": {"strokeDash": [{"test": "datum.value === 'Masculino'", "value": [11, 6]}, {"value": [1, 0]}], "opacity": {"value": 1}}}}}}
   },
   "layer": [
    {"transform": [{"filter": "datum.g === 'Feminino'"}], "mark": {"type": "line", "interpolate": "step-after", "strokeWidth": 2}},
    {"transform": [{"filter": "datum.g === 'Feminino' && datum.m !== 0"}], "mark": {"type": "point", "shape": "M0,-1V1M-0.5,0H0.5", "size": 625, "strokeWidth": 2.8, "filled": false, "opacity": 1}},
    {"transform": [{"filter": "datum.g === 'Masculino'"}], "mark": {"type": "line", "interpolate": "step-after", "strokeWidth": 2}},
    {"transform": [{"filter": "datum.g === 'Masculino' && datum.m !== 0"}], "mark": {"type": "point", "shape": "M0,-1V1M-0.5,0H0.5", "size": 625, "strokeWidth": 2.8, "filled": false, "opacity": 1}}
   ]
  }
 ]
},
{
 "width": 906, "height": 230,
 "layer": [
  {"data": {"values": [{}]}, "mark": {"type": "rule", "color": "black", "strokeWidth": 1.5}, "encoding": {"y": {"datum": 1.04, "type": "quantitative", "scale": {"domain": [-0.04, 1.04], "nice": false, "zero": false}}}},
  {
   "transform": [{"filter": "datum.p === 2"}],
   "encoding": {
    "x": {"field": "t", "type": "quantitative", "scale": {"domain": [0, 389], "nice": false, "zero": false},
      "axis": {"values": [0, 100, 200, 300], "title": "Tempo (dias)", "grid": false, "domainColor": "black", "domainWidth": 1.5, "tickColor": "black", "tickWidth": 1.5, "tickSize": 18, "labelFontSize": 33, "labelColor": "black", "labelPadding": 24, "labelFlush": false, "labelOverlap": false, "titleFontSize": 33, "titleFontWeight": "normal", "titleColor": "black", "titlePadding": 52}},
    "y": {"field": "s", "type": "quantitative", "scale": {"domain": [-0.04, 1.04], "nice": false, "zero": false},
      "axis": {"values": [0, 0.2, 0.4, 0.6, 0.8, 1], "labelExpr": "(datum.value === 0 || datum.value === 0.4 || datum.value === 0.8) ? format(datum.value, '.1f') : ''", "title": "S(t) estimada", "grid": false, "domainColor": "black", "domainWidth": 1.5, "tickColor": "black", "tickWidth": 1.5, "tickSize": 18, "labelFontSize": 33, "labelColor": "black", "labelAngle": 270, "labelAlign": "center", "labelBaseline": "middle", "labelPadding": 40, "labelOverlap": false, "titleFontSize": 33, "titleFontWeight": "normal", "titleColor": "black", "titlePadding": 46}},
    "color": {"field": "g", "type": "nominal", "scale": {"domain": ["Placebo", "Vitamina A"], "range": ["#000000", "#ff0000"]},
      "legend": {"title": null, "orient": "none", "legendX": 352, "legendY": 77, "symbolType": "M-2,0H2", "symbolSize": 992, "symbolStrokeWidth": 2, "labelFontSize": 33, "labelColor": "black", "labelOffset": 43, "rowPadding": 5, "labelLimit": 500,
        "encode": {"symbols": {"update": {"strokeDash": [{"test": "datum.value === 'Vitamina A'", "value": [11, 6]}, {"value": [1, 0]}], "opacity": {"value": 1}}}}}}
   },
   "layer": [
    {"transform": [{"filter": "datum.g === 'Placebo'"}], "mark": {"type": "line", "interpolate": "step-after", "strokeWidth": 2}},
    {"transform": [{"filter": "datum.g === 'Placebo' && datum.m !== 0"}], "mark": {"type": "point", "shape": "M0,-1V1M-0.5,0H0.5", "size": 625, "strokeWidth": 2.8, "filled": false, "opacity": 1}},
    {"transform": [{"filter": "datum.g === 'Vitamina A'"}], "mark": {"type": "line", "interpolate": "step-after", "strokeWidth": 2}},
    {"transform": [{"filter": "datum.g === 'Vitamina A' && datum.m !== 0"}], "mark": {"type": "point", "shape": "M0,-1V1M-0.5,0H0.5", "size": 625, "strokeWidth": 2.8, "filled": false, "opacity": 1}}
   ]
  }
 ]
}
]
}
